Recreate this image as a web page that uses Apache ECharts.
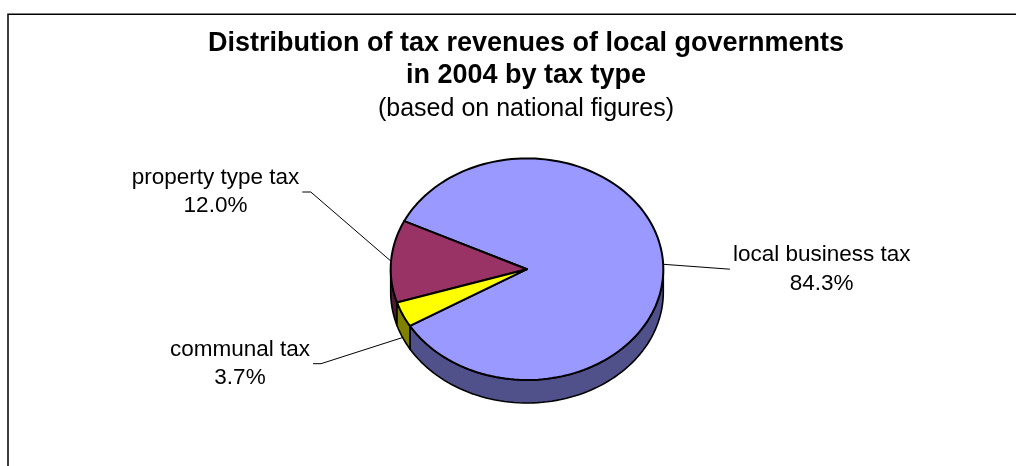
<!DOCTYPE html>
<html>
<head>
<meta charset="utf-8">
<script src="https://cdn.jsdelivr.net/npm/echarts@6/dist/echarts.min.js"></script>
<style>
  html, body { margin: 0; padding: 0; background: #fff; }
  #chart { width: 1016px; height: 466px; }
</style>
</head>
<body>
<div id="chart"></div>
<script>
// Tax revenue shares of local governments, 2004 (%)
const categories = ['local business tax', 'property type tax', 'communal tax'];
const shares = [84.3, 12.0, 3.7];

// Slice colours: top face and darker side wall
const topColors = ['#9999FF', '#993366', '#FFFF00'];
const sideColors = ['#50508A', '#4D1933', '#808000'];

// Tilted disc geometry
const CX = 527, CY = 269.2, RX = 136.3, RY = 110.8, DEPTH = 23;
const START_DEG = 210.8; // first slice starts here, sweeping counter-clockwise

// Label block centres and how the leader line joins them
const labelLayout = [
  { x: 821.7, y: 269.2, side: 'left', elbow: 0 },
  { x: 215.5, y: 192.0, side: 'right', elbow: 8.5 },
  { x: 240.0, y: 363.7, side: 'right', elbow: 8 }
];
const FONT = '"Liberation Sans", Arial, Helvetica, sans-serif';
const LABEL_SIZE = 22.5;

const total = shares.reduce((s, v) => s + v, 0);
const angles = [START_DEG];
shares.forEach((v, i) => angles.push(angles[i] + 360 * v / total));

const rad = d => d * Math.PI / 180;
const pt = (deg, dy) => [CX + RX * Math.cos(rad(deg)), CY - RY * Math.sin(rad(deg)) + (dy || 0)];

function arc(a0, a1, dy) {
  const n = Math.max(2, Math.ceil((a1 - a0) / 2));
  const pts = [];
  for (let k = 0; k <= n; k++) pts.push(pt(a0 + (a1 - a0) * k / n, dy));
  return pts;
}

const measureCtx = document.createElement('canvas').getContext('2d');
measureCtx.font = LABEL_SIZE + 'px ' + FONT;
const textWidth = lines => Math.max(...lines.map(l => measureCtx.measureText(l).width));

function renderItem(params, api) {
  const i = params.dataIndex;
  const a0 = angles[i], a1 = angles[i + 1];
  const children = [];

  // Outer wall on the front half of the disc
  for (let k = -1; k <= 2; k++) {
    const lo = Math.max(a0, 180 + 360 * k);
    const hi = Math.min(a1, 360 + 360 * k);
    if (hi > lo) {
      const pts = arc(lo, hi, 0).concat(arc(lo, hi, DEPTH).reverse());
      children.push({
        type: 'polygon', z2: 1,
        shape: { points: pts },
        style: { fill: sideColors[i], stroke: '#000', lineWidth: 1.6, lineJoin: 'round' }
      });
    }
  }

  // Top face
  children.push({
    type: 'polygon', z2: 2,
    shape: { points: [[CX, CY]].concat(arc(a0, a1, 0)) },
    style: { fill: topColors[i], stroke: '#000', lineWidth: 2, lineJoin: 'round' }
  });

  // Label with leader line
  const L = labelLayout[i];
  const lines = [categories[i], api.value(0).toFixed(1) + '%'];
  const w = textWidth(lines);
  const mid = (a0 + a1) / 2;
  const anchor = pt(mid, Math.sin(rad(mid)) < 0 ? DEPTH : 0);
  const endX = L.side === 'left' ? L.x - w / 2 - 3 : L.x + w / 2 + 3;
  const elbowX = L.side === 'left' ? endX - L.elbow : endX + L.elbow;
  children.push({
    type: 'polyline', z2: 3,
    shape: { points: [anchor, [elbowX, L.y], [endX, L.y]] },
    style: { stroke: '#000', lineWidth: 1, fill: null }
  });
  children.push({
    type: 'text', z2: 3,
    style: {
      text: lines.join('\n'),
      x: L.x, y: L.y,
      textAlign: 'center', textVerticalAlign: 'middle',
      align: 'center', verticalAlign: 'middle',
      font: LABEL_SIZE + 'px ' + FONT,
      lineHeight: 28.3,
      fill: '#000'
    }
  });

  return { type: 'group', children };
}

const chart = echarts.init(document.getElementById('chart'), null, { renderer: 'canvas' });
chart.setOption({
  animation: false,
  backgroundColor: '#fff',
  title: {
    text: 'Distribution of tax revenues of local governments\nin 2004 by tax type',
    subtext: '(based on national figures)',
    left: 526, top: 28, textAlign: 'center', itemGap: 2, padding: 0,
    textStyle: { fontFamily: FONT, fontSize: 27, fontWeight: 'bold', color: '#000', lineHeight: 32 },
    subtextStyle: { fontFamily: FONT, fontSize: 25, color: '#000', lineHeight: 30 }
  },
  graphic: [{
    type: 'rect', silent: true,
    shape: { x: 8, y: 14.3, width: 1100, height: 600 },
    style: { fill: null, stroke: '#000', lineWidth: 1.5 }
  }],
  series: [{
    type: 'custom',
    coordinateSystem: 'none',
    renderItem: renderItem,
    data: shares.map((v, i) => ({ name: categories[i], value: [v] }))
  }]
});
</script>
</body>
</html>
